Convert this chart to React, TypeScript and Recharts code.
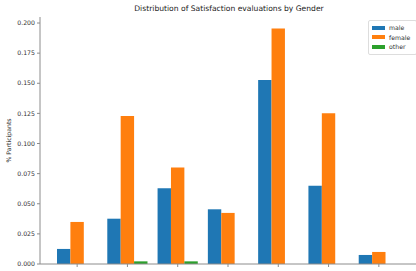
import React from 'react';
import { BarChart, Bar, XAxis, YAxis } from 'recharts';

// satisfaction scores on the x axis
const scores = ['-3', '-2', '-1', '0', '1', '2', '3'];
const male = [0.0125, 0.0376, 0.0629, 0.0454, 0.1528, 0.065, 0.0075];
const female = [0.0349, 0.1229, 0.08, 0.0424, 0.1954, 0.1251, 0.01];
const other = [0, 0.0022, 0.0022, 0, 0, 0, 0];
const yTicks = [0, 0.025, 0.05, 0.075, 0.1, 0.125, 0.15, 0.175, 0.2];
const series = [
  { key: 'male', color: '#1f77b4' },
  { key: 'female', color: '#ff7f0e' },
  { key: 'other', color: '#2ca02c' },
];

const data = scores.map((s, i) => ({ score: s, male: male[i], female: female[i], other: other[i] }));

const FONT = '"DejaVu Sans", sans-serif';
const SPINE = '#8c8c8c';

const XTick = (props: any) => {
  const { x, y, payload } = props;
  return (
    <text x={x} y={y + 4} transform={`rotate(-90 ${x} ${y + 4})`} textAnchor="end" dominantBaseline="central"
      fontSize={6.2} fill="#333" fontFamily={FONT}>
      {payload.value}
    </text>
  );
};

export default function App() {
  return (
    <div style={{ position: 'fixed', top: 0, left: 0, width: 416, height: 271, overflow: 'hidden', background: '#fff' }}>
      <div style={{ position: 'absolute', top: 4, left: 40, width: 378, textAlign: 'center', fontFamily: FONT, fontSize: 7.6, color: '#222', lineHeight: '10px' }}>
        Distribution of Satisfaction evaluations by Gender
      </div>
      <BarChart width={420} height={300} data={data} margin={{ top: 17, right: 2, bottom: 6, left: 0 }}
        barGap={0} barSize={13.4}>
        <XAxis dataKey="score" height={30} padding={{ left: 12, right: 14 }} tickLine={{ stroke: SPINE }}
          tickSize={3} axisLine={{ stroke: SPINE }} tick={<XTick />} interval={0} />
        <XAxis xAxisId="top" orientation="top" dataKey="score" height={0} tick={false} tickLine={false}
          axisLine={{ stroke: SPINE }} />
        <YAxis width={40} domain={[0, 0.205]} ticks={yTicks} tickFormatter={(v: number) => v.toFixed(3)}
          tick={{ fontSize: 6.2, fill: '#333', fontFamily: FONT }} tickSize={3} tickLine={{ stroke: SPINE }}
          axisLine={{ stroke: SPINE }} allowDataOverflow
          label={{ value: '% Participants', angle: -90, position: 'insideLeft', offset: 9, style: { fontSize: 6.2, fill: '#333', fontFamily: FONT, textAnchor: 'middle' } }} />
        {series.map((s) => (
          <Bar key={s.key} dataKey={s.key} fill={s.color} isAnimationActive={false} />
        ))}
      </BarChart>
      <div style={{ position: 'absolute', top: 20, left: 368, width: 44, border: '1px solid #ddd', borderRadius: 2, background: '#fff', padding: '2px 0 2px 3px', fontFamily: FONT, fontSize: 6.2, color: '#333' }}>
        {series.map((s) => (
          <div key={s.key} style={{ display: 'flex', alignItems: 'center', height: 9.5 }}>
            <span style={{ width: 13, height: 4, background: s.color, marginRight: 4, display: 'inline-block' }} />
            {s.key}
          </div>
        ))}
      </div>
    </div>
  );
}
